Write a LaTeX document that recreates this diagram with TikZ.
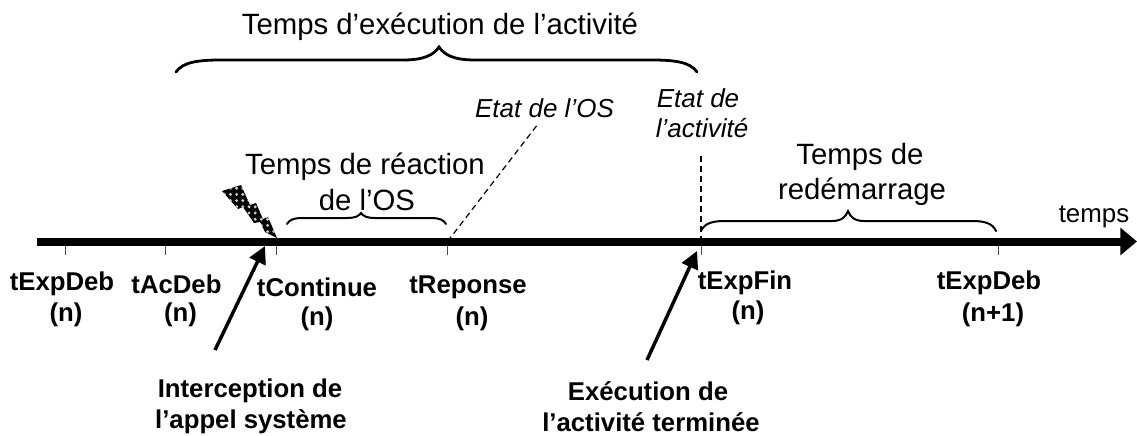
\documentclass[tikz,border=0pt]{standalone}
\usepackage{fontspec}
\setmainfont{Liberation Sans}
\usetikzlibrary{arrows.meta}
\tikzset{
  x=0.75pt,y=-0.75pt,
  bigtext/.style={inner sep=0pt,font=\fontsize{22}{26}\selectfont},
  italtext/.style={inner sep=0pt,font=\fontsize{19.5}{23}\selectfont\itshape},
  boldtext/.style={inner sep=0pt,font=\fontsize{19.3}{23}\selectfont\bfseries},
  smalltext/.style={inner sep=0pt,font=\fontsize{19.4}{23}\selectfont},
  axisline/.style={line width=6pt,-{Triangle[length=12.5pt,width=20pt]}},
  tick/.style={line width=0.75pt,draw=black!70},
  bracel/.style={line width=1.5pt,line cap=round},
  dashl/.style={line width=0.9pt,dash pattern=on 4.5pt off 3pt},
  callout/.style={line width=2.6pt,-{Triangle[length=13pt,width=13pt]}},
}
% #1 style, #2 xl, #3 xr, #4 ytop, #5 yend, #6 tip height, #7 tip half-width, #8 corner, #9 tip x
\newcommand{\mybrace}[9][]{%
  \draw[bracel,#1] (#2,#5) .. controls (#2+#8*0.15,#4+2) and (#2+#8*0.5,#4) .. (#2+#8,#4)
    -- (#9-#7,#4) .. controls (#9-#7*0.4,#4) and (#9-#7*0.15,#4-#6*0.4) .. (#9,#4-#6)
    .. controls (#9+#7*0.15,#4-#6*0.4) and (#9+#7*0.4,#4) .. (#9+#7,#4)
    -- (#3-#8,#4) .. controls (#3-#8*0.5,#4) and (#3-#8*0.15,#4+2) .. (#3,#5);}
\begin{document}
\begin{tikzpicture}
\useasboundingbox (0,0) rectangle (1137,435);
% axis
\coordinate (axstart) at (37,241.5);
\coordinate (axend) at (1137,241.5);
\foreach \n/\x in {a/65.5,b/165,c/276,d/447.5,e/701,f/998}{
  \coordinate (top\n) at (\x,241.5);
  \coordinate (bot\n) at (\x,255);
  \draw[tick] (top\n) -- (bot\n);
}
\draw[axisline] (axstart) -- (axend);
% bolt
\begin{scope}
  \clip (222,191) -- (241,185) -- (250,205) -- (256,203) -- (263,219) -- (268,217) -- (277,238)
    -- (265,232) -- (260,222) -- (254,223) -- (243,207) -- (238,209) -- cycle;
  \fill[black] (215,180) rectangle (285,245);
  \foreach \i in {0,...,11}{
    \foreach \j in {0,...,11}{
      \fill[black!22] ({218+6.2*\i},{182+6.2*\j}) circle[radius=1.7];
    }
  }
\end{scope}
% braces
\mybrace[line width=2.1pt]{176}{697}{60}{72}{13}{36}{45}{439}
\mybrace{287}{446}{218}{224}{5}{14}{14}{361}
\mybrace{701}{996}{221}{231}{10}{16}{24}{848}
% dashed
\coordinate (osend) at (538,124);
\coordinate (acend) at (701,153);
\draw[dashl] (topd) -- (osend);
\draw[dashl] (tope) -- (acend);
% texts
\node[bigtext] (t1) at (440,27) {Temps d’exécution de l’activité};
\node[italtext] (t2) at (544.5,108) {Etat de l’OS};
\node[italtext] (t3) at (698,98) {Etat de};
\node[italtext] (t4) at (702,128) {l’activité};
\node[bigtext] (t5) at (365,167) {Temps de réaction};
\node[bigtext] (t6) at (367,200) {de l’OS};
\node[bigtext] (t7) at (860,157) {Temps de};
\node[bigtext] (t8) at (862,192) {redémarrage};
\node[smalltext] (t9) at (1094,217) {temps};
\node[boldtext] (l1) at (62,284) {tExpDeb};
\node[boldtext] (l2) at (66,315) {(n)};
\node[boldtext] (l3) at (176.5,284) {tAcDeb};
\node[boldtext] (l4) at (180.5,315) {(n)};
\node[boldtext] (l5) at (317,287) {tContinue};
\node[boldtext] (l6) at (317,319) {(n)};
\node[boldtext] (l7) at (468,287) {tReponse};
\node[boldtext] (l8) at (472,319) {(n)};
\node[boldtext] (l9) at (745,283) {tExpFin};
\node[boldtext] (l10) at (748,313) {(n)};
\node[boldtext] (l11) at (989,283) {tExpDeb};
\node[boldtext] (l12) at (993,315) {(n+1)};
\node[boldtext] (c1) at (250,391) {Interception de};
\node[boldtext] (c2) at (251,422) {l’appel système};
\node[boldtext] (c3) at (648,391) {Exécution de};
\node[boldtext] (c4) at (651,422) {l’activité terminée};
% callouts
\coordinate (a1s) at (215,350);
\coordinate (a1e) at (265,246);
\coordinate (a2s) at (647,360);
\coordinate (a2e) at (697,251);
\draw[callout] (a1s) -- (a1e);
\draw[callout] (a2s) -- (a2e);
\end{tikzpicture}
\end{document}
